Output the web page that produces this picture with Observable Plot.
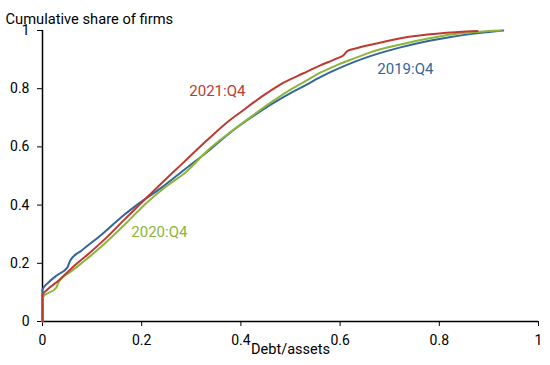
<!DOCTYPE html>
<html>
<head>
<meta charset="utf-8">
<script src="https://cdn.jsdelivr.net/npm/d3@7"></script>
<script src="https://cdn.jsdelivr.net/npm/@observablehq/plot@0.6"></script>
<style>
  html, body { margin: 0; padding: 0; background: #fff; }
  svg { font-family: Roboto, "Noto Sans", sans-serif; }
</style>
</head>
<body>
<div id="chart"></div>
<script>
const xTicks = [0, 0.2, 0.4, 0.6, 0.8, 1];
const yTicks = [0, 0.2, 0.4, 0.6, 0.8, 1];

const x2019 = [0, 0, 0.012, 0.03, 0.05, 0.056, 0.079, 0.12, 0.16, 0.194, 0.24, 0.284, 0.33, 0.379, 0.42, 0.46, 0.50, 0.526, 0.56, 0.595, 0.63, 0.661, 0.722, 0.78, 0.823, 0.88, 0.929];
const y2019 = [0, 0.11, 0.134, 0.16, 0.185, 0.21, 0.244, 0.30, 0.36, 0.405, 0.46, 0.519, 0.58, 0.65, 0.70, 0.745, 0.785, 0.808, 0.84, 0.868, 0.893, 0.912, 0.942, 0.965, 0.978, 0.991, 1];

const x2020 = [0, 0, 0.028, 0.032, 0.06, 0.093, 0.13, 0.17, 0.208, 0.25, 0.29, 0.333, 0.38, 0.42, 0.46, 0.50, 0.526, 0.56, 0.595, 0.63, 0.661, 0.722, 0.78, 0.823, 0.88, 0.925];
const y2020 = [0, 0.083, 0.117, 0.134, 0.175, 0.22, 0.275, 0.34, 0.405, 0.465, 0.515, 0.588, 0.652, 0.703, 0.752, 0.797, 0.822, 0.855, 0.882, 0.905, 0.925, 0.952, 0.973, 0.986, 0.996, 1];

const x2021 = [0, 0, 0.01, 0.032, 0.06, 0.093, 0.13, 0.165, 0.198, 0.24, 0.284, 0.33, 0.38, 0.40, 0.425, 0.45, 0.48, 0.526, 0.56, 0.595, 0.607, 0.615, 0.635, 0.68, 0.736, 0.8, 0.877];
const y2021 = [0, 0.09, 0.11, 0.14, 0.185, 0.233, 0.29, 0.35, 0.405, 0.475, 0.546, 0.62, 0.695, 0.72, 0.752, 0.782, 0.815, 0.853, 0.88, 0.905, 0.915, 0.93, 0.94, 0.958, 0.978, 0.99, 0.998];

const seriesNames = ["2019:Q4", "2020:Q4", "2021:Q4"];
const seriesColors = ["#336699", "#8db43b", "#bd3a30"];
const labelX = [0.675, 0.179, 0.296];
const labelY = [0.866, 0.306, 0.79];

const toRows = (xs, ys, s) => xs.map((x, i) => ({x, y: ys[i], s}));
const rows = [
  ...toRows(x2019, y2019, seriesNames[0]),
  ...toRows(x2020, y2020, seriesNames[1]),
  ...toRows(x2021, y2021, seriesNames[2])
];
const labels = seriesNames.map((s, i) => ({s, x: labelX[i], y: labelY[i]}));
const fmt = d => String(+d.toFixed(1));

const chart = Plot.plot({
  width: 550,
  height: 365,
  marginLeft: 42,
  marginRight: 12,
  marginTop: 30,
  marginBottom: 44,
  style: {fontFamily: "Roboto, sans-serif", fontSize: "14px", color: "#000", background: "#fff"},
  x: {domain: [0, 1]},
  y: {domain: [0, 1]},
  color: {domain: seriesNames, range: seriesColors},
  marks: [
    Plot.axisX({ticks: xTicks, tickFormat: fmt, tickSize: 5, tickPadding: 9, label: null, fontSize: 14}),
    Plot.axisY({ticks: yTicks, tickFormat: fmt, tickSize: 5, tickPadding: 8, label: null, fontSize: 14}),
    Plot.ruleX([0], {stroke: "#000", strokeWidth: 1.5}),
    Plot.ruleY([0], {stroke: "#000", strokeWidth: 1.5}),
    Plot.line(rows, {x: "x", y: "y", z: "s", stroke: "s", strokeWidth: 2, curve: "monotone-x"}),
    Plot.text(labels, {x: "x", y: "y", text: "s", fill: "s", textAnchor: "start", fontSize: 15}),
    Plot.text(["Cumulative share of firms"], {frameAnchor: "top-left", dx: -37, dy: -17, textAnchor: "start", fontSize: 14.7, fill: "#000"}),
    Plot.text(["Debt/assets"], {frameAnchor: "bottom", dy: 32, fontSize: 14.5, fill: "#000"})
  ]
});
document.getElementById("chart").appendChild(chart);
</script>
</body>
</html>
